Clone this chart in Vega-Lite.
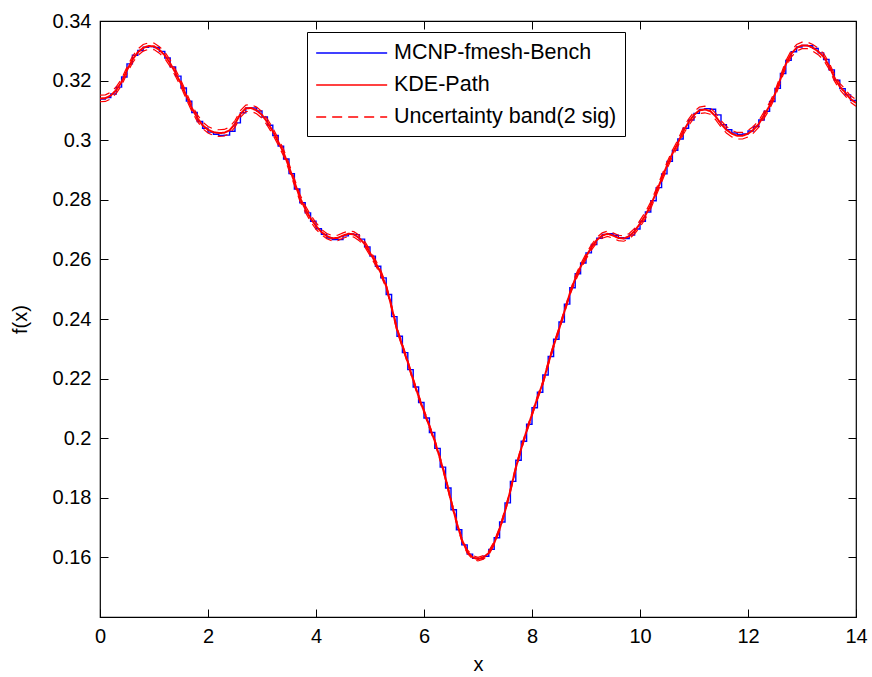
{
  "$schema": "https://vega.github.io/schema/vega-lite/v6.json",
  "autosize": "none",
  "width": 756,
  "height": 596,
  "padding": {"left": 100, "top": 21, "right": 16, "bottom": 60},
  "background": "white",
  "config": {
    "view": {"stroke": "#000000", "strokeWidth": 1.2},
    "font": "Liberation Sans",
    "axis": {
      "domain": false, "grid": false, "tickColor": "#000000", "tickSize": -8, "tickWidth": 1,
      "labelFont": "Liberation Sans", "labelFontSize": 20, "labelColor": "#000000", "labelPadding": 17, "labelFlush": false,
      "titleFont": "Liberation Sans", "titleFontSize": 20, "titleFontWeight": "normal", "titleColor": "#000000"
    },
    "legend": {
      "orient": "none", "legendX": 207, "legendY": 11,
      "strokeColor": "#000000", "fillColor": "#ffffff", "padding": 8,
      "symbolType": "M-1,0H5", "symbolSize": 560, "symbolStrokeWidth": 1.5,
      "labelFont": "Liberation Sans", "labelFontSize": 21.5, "labelColor": "#000000", "labelOffset": 53, "labelLimit": 0,
      "rowPadding": 8
    }
  },
  "data": {"values": [
    {"x":0.0,"b":0.3138,"k":0.3140,"lo":0.3129,"hi":0.3151},
    {"x":0.1,"b":0.3143,"k":0.3141,"lo":0.3130,"hi":0.3152},
    {"x":0.2,"b":0.3155,"k":0.3150,"lo":0.3139,"hi":0.3161},
    {"x":0.3,"b":0.3178,"k":0.3168,"lo":0.3157,"hi":0.3179},
    {"x":0.4,"b":0.3212,"k":0.3195,"lo":0.3184,"hi":0.3206},
    {"x":0.5,"b":0.3256,"k":0.3235,"lo":0.3224,"hi":0.3246},
    {"x":0.6,"b":0.3285,"k":0.3270,"lo":0.3259,"hi":0.3281},
    {"x":0.7,"b":0.3301,"k":0.3295,"lo":0.3284,"hi":0.3306},
    {"x":0.8,"b":0.3312,"k":0.3310,"lo":0.3299,"hi":0.3321},
    {"x":0.9,"b":0.3314,"k":0.3316,"lo":0.3305,"hi":0.3327},
    {"x":1.0,"b":0.3311,"k":0.3315,"lo":0.3304,"hi":0.3326},
    {"x":1.1,"b":0.3298,"k":0.3303,"lo":0.3292,"hi":0.3314},
    {"x":1.2,"b":0.3276,"k":0.3285,"lo":0.3274,"hi":0.3296},
    {"x":1.3,"b":0.3246,"k":0.3258,"lo":0.3247,"hi":0.3269},
    {"x":1.4,"b":0.3215,"k":0.3225,"lo":0.3214,"hi":0.3236},
    {"x":1.5,"b":0.3175,"k":0.3190,"lo":0.3179,"hi":0.3201},
    {"x":1.6,"b":0.3131,"k":0.3148,"lo":0.3137,"hi":0.3159},
    {"x":1.7,"b":0.3093,"k":0.3108,"lo":0.3097,"hi":0.3119},
    {"x":1.8,"b":0.3063,"k":0.3075,"lo":0.3064,"hi":0.3086},
    {"x":1.9,"b":0.3040,"k":0.3050,"lo":0.3039,"hi":0.3061},
    {"x":2.0,"b":0.3027,"k":0.3035,"lo":0.3024,"hi":0.3046},
    {"x":2.1,"b":0.3020,"k":0.3027,"lo":0.3016,"hi":0.3038},
    {"x":2.2,"b":0.3016,"k":0.3024,"lo":0.3013,"hi":0.3035},
    {"x":2.3,"b":0.3017,"k":0.3025,"lo":0.3014,"hi":0.3036},
    {"x":2.4,"b":0.3030,"k":0.3033,"lo":0.3022,"hi":0.3044},
    {"x":2.5,"b":0.3058,"k":0.3055,"lo":0.3044,"hi":0.3066},
    {"x":2.6,"b":0.3092,"k":0.3088,"lo":0.3077,"hi":0.3099},
    {"x":2.7,"b":0.3108,"k":0.3107,"lo":0.3096,"hi":0.3118},
    {"x":2.8,"b":0.3108,"k":0.3108,"lo":0.3097,"hi":0.3119},
    {"x":2.9,"b":0.3098,"k":0.3100,"lo":0.3089,"hi":0.3111},
    {"x":3.0,"b":0.3078,"k":0.3085,"lo":0.3074,"hi":0.3096},
    {"x":3.1,"b":0.3050,"k":0.3060,"lo":0.3049,"hi":0.3071},
    {"x":3.2,"b":0.3016,"k":0.3030,"lo":0.3019,"hi":0.3041},
    {"x":3.3,"b":0.2980,"k":0.2995,"lo":0.2984,"hi":0.3006},
    {"x":3.4,"b":0.2937,"k":0.2958,"lo":0.2947,"hi":0.2969},
    {"x":3.5,"b":0.2888,"k":0.2910,"lo":0.2899,"hi":0.2921},
    {"x":3.6,"b":0.2836,"k":0.2860,"lo":0.2849,"hi":0.2871},
    {"x":3.7,"b":0.2790,"k":0.2808,"lo":0.2797,"hi":0.2819},
    {"x":3.8,"b":0.2756,"k":0.2770,"lo":0.2759,"hi":0.2781},
    {"x":3.9,"b":0.2728,"k":0.2738,"lo":0.2727,"hi":0.2749},
    {"x":4.0,"b":0.2703,"k":0.2712,"lo":0.2701,"hi":0.2723},
    {"x":4.1,"b":0.2684,"k":0.2692,"lo":0.2683,"hi":0.2701},
    {"x":4.2,"b":0.2672,"k":0.2678,"lo":0.2669,"hi":0.2687},
    {"x":4.3,"b":0.2667,"k":0.2671,"lo":0.2662,"hi":0.2680},
    {"x":4.4,"b":0.2667,"k":0.2672,"lo":0.2663,"hi":0.2681},
    {"x":4.5,"b":0.2679,"k":0.2680,"lo":0.2671,"hi":0.2689},
    {"x":4.6,"b":0.2685,"k":0.2686,"lo":0.2677,"hi":0.2695},
    {"x":4.7,"b":0.2683,"k":0.2684,"lo":0.2675,"hi":0.2693},
    {"x":4.8,"b":0.2668,"k":0.2672,"lo":0.2663,"hi":0.2681},
    {"x":4.9,"b":0.2642,"k":0.2652,"lo":0.2643,"hi":0.2661},
    {"x":5.0,"b":0.2611,"k":0.2622,"lo":0.2613,"hi":0.2631},
    {"x":5.1,"b":0.2577,"k":0.2590,"lo":0.2581,"hi":0.2599},
    {"x":5.2,"b":0.2538,"k":0.2555,"lo":0.2546,"hi":0.2564},
    {"x":5.3,"b":0.2482,"k":0.2510,"lo":0.2504,"hi":0.2516},
    {"x":5.4,"b":0.2408,"k":0.2440,"lo":0.2434,"hi":0.2446},
    {"x":5.5,"b":0.2342,"k":0.2365,"lo":0.2359,"hi":0.2371},
    {"x":5.6,"b":0.2287,"k":0.2310,"lo":0.2304,"hi":0.2316},
    {"x":5.7,"b":0.2230,"k":0.2255,"lo":0.2249,"hi":0.2261},
    {"x":5.8,"b":0.2172,"k":0.2195,"lo":0.2189,"hi":0.2201},
    {"x":5.9,"b":0.2120,"k":0.2140,"lo":0.2134,"hi":0.2146},
    {"x":6.0,"b":0.2068,"k":0.2090,"lo":0.2084,"hi":0.2096},
    {"x":6.1,"b":0.2019,"k":0.2040,"lo":0.2034,"hi":0.2046},
    {"x":6.2,"b":0.1966,"k":0.1990,"lo":0.1984,"hi":0.1996},
    {"x":6.3,"b":0.1903,"k":0.1930,"lo":0.1924,"hi":0.1936},
    {"x":6.4,"b":0.1833,"k":0.1865,"lo":0.1859,"hi":0.1871},
    {"x":6.5,"b":0.1760,"k":0.1790,"lo":0.1784,"hi":0.1796},
    {"x":6.6,"b":0.1693,"k":0.1720,"lo":0.1714,"hi":0.1726},
    {"x":6.7,"b":0.1642,"k":0.1660,"lo":0.1654,"hi":0.1666},
    {"x":6.8,"b":0.1611,"k":0.1620,"lo":0.1614,"hi":0.1626},
    {"x":6.9,"b":0.1597,"k":0.1600,"lo":0.1594,"hi":0.1606},
    {"x":7.0,"b":0.1596,"k":0.1594,"lo":0.1588,"hi":0.1600},
    {"x":7.1,"b":0.1604,"k":0.1600,"lo":0.1594,"hi":0.1606},
    {"x":7.2,"b":0.1627,"k":0.1615,"lo":0.1609,"hi":0.1621},
    {"x":7.3,"b":0.1666,"k":0.1648,"lo":0.1642,"hi":0.1654},
    {"x":7.4,"b":0.1719,"k":0.1695,"lo":0.1689,"hi":0.1701},
    {"x":7.5,"b":0.1783,"k":0.1755,"lo":0.1749,"hi":0.1761},
    {"x":7.6,"b":0.1855,"k":0.1825,"lo":0.1819,"hi":0.1831},
    {"x":7.7,"b":0.1926,"k":0.1900,"lo":0.1894,"hi":0.1906},
    {"x":7.8,"b":0.1990,"k":0.1965,"lo":0.1959,"hi":0.1971},
    {"x":7.9,"b":0.2047,"k":0.2025,"lo":0.2019,"hi":0.2031},
    {"x":8.0,"b":0.2102,"k":0.2080,"lo":0.2074,"hi":0.2086},
    {"x":8.1,"b":0.2154,"k":0.2135,"lo":0.2129,"hi":0.2141},
    {"x":8.2,"b":0.2212,"k":0.2185,"lo":0.2179,"hi":0.2191},
    {"x":8.3,"b":0.2274,"k":0.2250,"lo":0.2244,"hi":0.2256},
    {"x":8.4,"b":0.2332,"k":0.2310,"lo":0.2304,"hi":0.2316},
    {"x":8.5,"b":0.2390,"k":0.2365,"lo":0.2359,"hi":0.2371},
    {"x":8.6,"b":0.2450,"k":0.2425,"lo":0.2419,"hi":0.2431},
    {"x":8.7,"b":0.2505,"k":0.2485,"lo":0.2479,"hi":0.2491},
    {"x":8.8,"b":0.2552,"k":0.2535,"lo":0.2526,"hi":0.2544},
    {"x":8.9,"b":0.2588,"k":0.2575,"lo":0.2566,"hi":0.2584},
    {"x":9.0,"b":0.2622,"k":0.2610,"lo":0.2601,"hi":0.2619},
    {"x":9.1,"b":0.2650,"k":0.2640,"lo":0.2631,"hi":0.2649},
    {"x":9.2,"b":0.2671,"k":0.2665,"lo":0.2656,"hi":0.2674},
    {"x":9.3,"b":0.2684,"k":0.2680,"lo":0.2671,"hi":0.2689},
    {"x":9.4,"b":0.2686,"k":0.2686,"lo":0.2677,"hi":0.2695},
    {"x":9.5,"b":0.2681,"k":0.2680,"lo":0.2671,"hi":0.2689},
    {"x":9.6,"b":0.2673,"k":0.2672,"lo":0.2663,"hi":0.2681},
    {"x":9.7,"b":0.2670,"k":0.2670,"lo":0.2661,"hi":0.2679},
    {"x":9.8,"b":0.2682,"k":0.2678,"lo":0.2669,"hi":0.2687},
    {"x":9.9,"b":0.2702,"k":0.2695,"lo":0.2686,"hi":0.2704},
    {"x":10.0,"b":0.2728,"k":0.2720,"lo":0.2709,"hi":0.2731},
    {"x":10.1,"b":0.2759,"k":0.2748,"lo":0.2737,"hi":0.2759},
    {"x":10.2,"b":0.2797,"k":0.2782,"lo":0.2771,"hi":0.2793},
    {"x":10.3,"b":0.2841,"k":0.2825,"lo":0.2814,"hi":0.2836},
    {"x":10.4,"b":0.2887,"k":0.2870,"lo":0.2859,"hi":0.2881},
    {"x":10.5,"b":0.2929,"k":0.2915,"lo":0.2904,"hi":0.2926},
    {"x":10.6,"b":0.2966,"k":0.2955,"lo":0.2944,"hi":0.2966},
    {"x":10.7,"b":0.3004,"k":0.2990,"lo":0.2979,"hi":0.3001},
    {"x":10.8,"b":0.3040,"k":0.3030,"lo":0.3019,"hi":0.3041},
    {"x":10.9,"b":0.3068,"k":0.3060,"lo":0.3049,"hi":0.3071},
    {"x":11.0,"b":0.3090,"k":0.3085,"lo":0.3074,"hi":0.3096},
    {"x":11.1,"b":0.3103,"k":0.3100,"lo":0.3089,"hi":0.3111},
    {"x":11.2,"b":0.3106,"k":0.3103,"lo":0.3092,"hi":0.3114},
    {"x":11.3,"b":0.3104,"k":0.3098,"lo":0.3087,"hi":0.3109},
    {"x":11.4,"b":0.3085,"k":0.3080,"lo":0.3069,"hi":0.3091},
    {"x":11.5,"b":0.3052,"k":0.3055,"lo":0.3044,"hi":0.3066},
    {"x":11.6,"b":0.3035,"k":0.3035,"lo":0.3024,"hi":0.3046},
    {"x":11.7,"b":0.3024,"k":0.3022,"lo":0.3011,"hi":0.3033},
    {"x":11.8,"b":0.3019,"k":0.3015,"lo":0.3004,"hi":0.3026},
    {"x":11.9,"b":0.3021,"k":0.3015,"lo":0.3004,"hi":0.3026},
    {"x":12.0,"b":0.3031,"k":0.3022,"lo":0.3011,"hi":0.3033},
    {"x":12.1,"b":0.3046,"k":0.3035,"lo":0.3024,"hi":0.3046},
    {"x":12.2,"b":0.3068,"k":0.3055,"lo":0.3044,"hi":0.3066},
    {"x":12.3,"b":0.3097,"k":0.3085,"lo":0.3074,"hi":0.3096},
    {"x":12.4,"b":0.3130,"k":0.3115,"lo":0.3104,"hi":0.3126},
    {"x":12.5,"b":0.3174,"k":0.3155,"lo":0.3144,"hi":0.3166},
    {"x":12.6,"b":0.3224,"k":0.3205,"lo":0.3194,"hi":0.3216},
    {"x":12.7,"b":0.3268,"k":0.3255,"lo":0.3244,"hi":0.3266},
    {"x":12.8,"b":0.3297,"k":0.3290,"lo":0.3279,"hi":0.3301},
    {"x":12.9,"b":0.3313,"k":0.3310,"lo":0.3299,"hi":0.3321},
    {"x":13.0,"b":0.3318,"k":0.3318,"lo":0.3307,"hi":0.3329},
    {"x":13.1,"b":0.3317,"k":0.3318,"lo":0.3307,"hi":0.3329},
    {"x":13.2,"b":0.3308,"k":0.3310,"lo":0.3299,"hi":0.3321},
    {"x":13.3,"b":0.3293,"k":0.3298,"lo":0.3287,"hi":0.3309},
    {"x":13.4,"b":0.3271,"k":0.3280,"lo":0.3269,"hi":0.3291},
    {"x":13.5,"b":0.3236,"k":0.3250,"lo":0.3239,"hi":0.3261},
    {"x":13.6,"b":0.3201,"k":0.3210,"lo":0.3199,"hi":0.3221},
    {"x":13.7,"b":0.3173,"k":0.3180,"lo":0.3169,"hi":0.3191},
    {"x":13.8,"b":0.3152,"k":0.3160,"lo":0.3149,"hi":0.3171},
    {"x":13.9,"b":0.3133,"k":0.3138,"lo":0.3127,"hi":0.3149},
    {"x":14.0,"b":0.3133,"k":0.3125,"lo":0.3114,"hi":0.3136}
  ]},
  "resolve": {"axis": {"x": "independent", "y": "independent"}},
  "layer": [
    {
      "transform": [{"fold": ["b"], "as": ["key", "val"]}],
      "mark": {"type": "line", "interpolate": "step-after", "strokeWidth": 1.4, "clip": true},
      "encoding": {
        "x": {"field": "x", "type": "quantitative", "scale": {"domain": [0, 14], "nice": false},
              "axis": {"orient": "bottom", "values": [0, 2, 4, 6, 8, 10, 12, 14], "title": "x", "titlePadding": 8}},
        "y": {"field": "val", "type": "quantitative", "scale": {"domain": [0.14, 0.34], "nice": false, "zero": false},
              "axis": {"orient": "left", "values": [0.16, 0.18, 0.2, 0.22, 0.24, 0.26, 0.28, 0.3, 0.32, 0.34], "format": ".2~f", "title": "f(x)", "titlePadding": 22}},
        "color": {"field": "key", "type": "nominal",
                  "scale": {"domain": ["b", "k", "lo", "hi"], "range": ["#0000ff", "#ff0000", "#ff0000", "#ff0000"]},
                  "legend": {"title": null, "values": ["b", "k", "lo"], "labelExpr": "datum.label == 'b' ? 'MCNP-fmesh-Bench' : datum.label == 'k' ? 'KDE-Path' : 'Uncertainty band(2 sig)'"}},
        "strokeDash": {"field": "key", "type": "nominal",
                  "scale": {"domain": ["b", "k", "lo", "hi"], "range": [[1, 0], [1, 0], [10, 6], [10, 6]]},
                  "legend": {"title": null, "values": ["b", "k", "lo"], "labelExpr": "datum.label == 'b' ? 'MCNP-fmesh-Bench' : datum.label == 'k' ? 'KDE-Path' : 'Uncertainty band(2 sig)'"}}
      }
    },
    {
      "transform": [{"fold": ["lo", "hi"], "as": ["key", "val"]}],
      "mark": {"type": "line", "strokeWidth": 1.2, "clip": true},
      "encoding": {
        "x": {"field": "x", "type": "quantitative",
              "axis": {"orient": "top", "values": [0, 2, 4, 6, 8, 10, 12, 14], "labels": false, "title": null}},
        "y": {"field": "val", "type": "quantitative",
              "axis": {"orient": "right", "values": [0.16, 0.18, 0.2, 0.22, 0.24, 0.26, 0.28, 0.3, 0.32, 0.34], "labels": false, "title": null}},
        "color": {"field": "key", "type": "nominal"},
        "strokeDash": {"field": "key", "type": "nominal"},
        "detail": {"field": "key", "type": "nominal"}
      }
    },
    {
      "transform": [{"fold": ["k"], "as": ["key", "val"]}],
      "mark": {"type": "line", "strokeWidth": 2, "clip": true},
      "encoding": {
        "x": {"field": "x", "type": "quantitative", "axis": null},
        "y": {"field": "val", "type": "quantitative", "axis": null},
        "color": {"field": "key", "type": "nominal"},
        "strokeDash": {"field": "key", "type": "nominal"}
      }
    }
  ]
}
